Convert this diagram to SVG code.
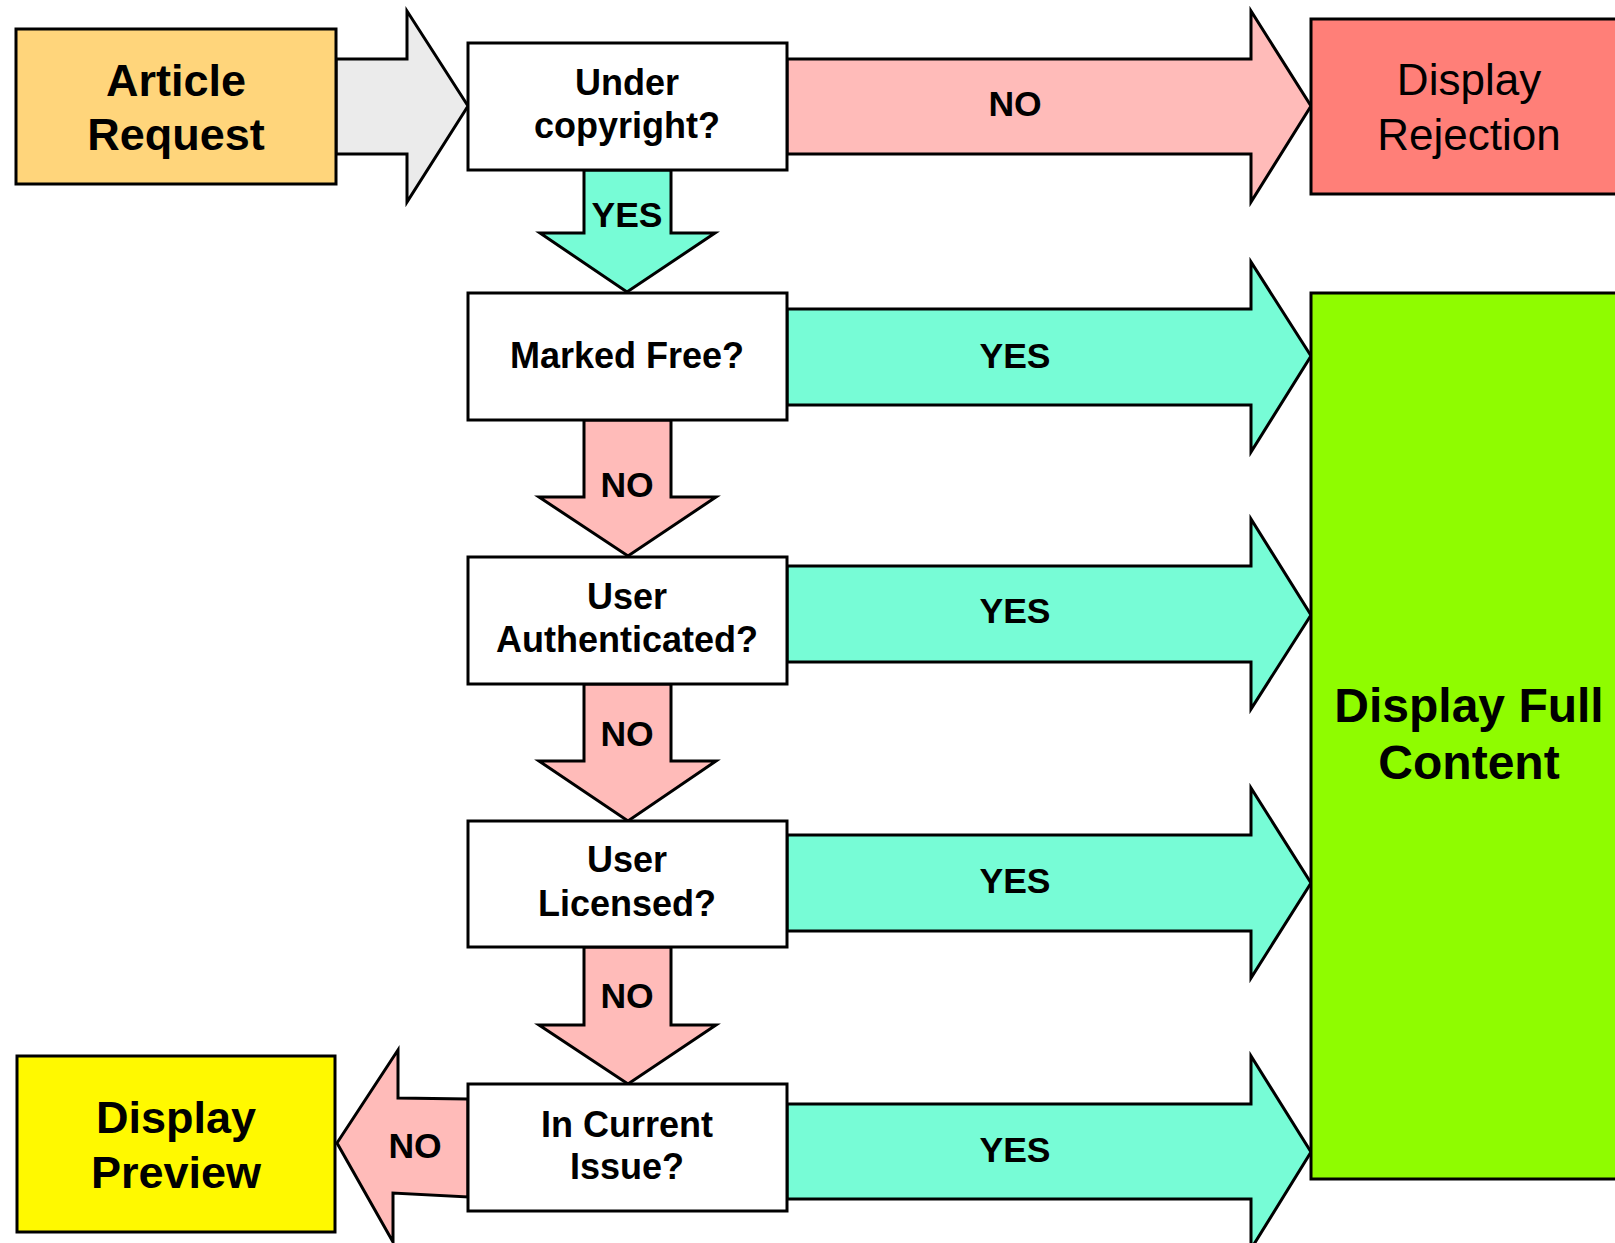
<svg xmlns="http://www.w3.org/2000/svg" width="1615" height="1243" viewBox="0 0 1615 1243">
<style>
.box{stroke:#000;stroke-width:3}
.arr{stroke:#000;stroke-width:3;stroke-linejoin:miter}
.t{font-family:"Liberation Sans",Arial,Helvetica,sans-serif;text-anchor:middle;fill:#000}
.b{font-weight:bold}
.lbl{font-family:"Liberation Sans",Arial,Helvetica,sans-serif;font-weight:bold;font-size:35.5px;text-anchor:middle;fill:#000}
.yes{fill:#77FCD6}
.no{fill:#FFBBB9}
</style>
<rect width="1615" height="1243" fill="#fff"/>
<g id="connectors">
  <path class="arr" fill="#EBEBEB" d="M336 59 H407 V11 L468 106 L407 202 V154 H336 Z"/>
  <path class="arr no" d="M787 59 H1251 V11 L1311 106 L1251 202 V154 H787 Z"/>
  <path class="arr yes" d="M787 309 H1251 V262 L1311 356 L1251 452 V405 H787 Z"/>
  <path class="arr yes" d="M787 566 H1251 V519 L1311 615 L1251 709 V662 H787 Z"/>
  <path class="arr yes" d="M787 835 H1251 V788 L1311 883 L1251 978 V931 H787 Z"/>
  <path class="arr yes" d="M787 1104 H1251 V1056 L1311 1152 L1251 1249 V1199 H787 Z"/>
  <path class="arr yes" d="M584 170 V233 H540 L627 292 L715 233 H671 V170 Z"/>
  <path class="arr no" d="M584 420 V497 H539 L628 556 L716 497 H671 V420 Z"/>
  <path class="arr no" d="M584 684 V761 H539 L628 821 L716 761 H671 V684 Z"/>
  <path class="arr no" d="M584 947 V1025 H539 L628 1084 L716 1025 H671 V947 Z"/>
  <path class="arr no" d="M468 1099 L398 1098 L398 1050 L337 1143 L393 1242 L393 1193 L468 1197 Z"/>
  <text class="lbl" x="1015" y="116">NO</text>
  <text class="lbl" x="1015" y="368">YES</text>
  <text class="lbl" x="1015" y="623">YES</text>
  <text class="lbl" x="1015" y="893">YES</text>
  <text class="lbl" x="1015" y="1162">YES</text>
  <text class="lbl" x="627" y="227">YES</text>
  <text class="lbl" x="627" y="497">NO</text>
  <text class="lbl" x="627" y="746">NO</text>
  <text class="lbl" x="627" y="1008">NO</text>
  <text class="lbl" x="415" y="1158">NO</text>
</g>
<g id="article-request">
  <rect class="box" x="16" y="29" width="320" height="155" fill="#FFD57B"/>
  <text class="t b" font-size="45" x="176" y="96">Article</text>
  <text class="t b" font-size="45" x="176" y="150">Request</text>
</g>
<g id="under-copyright">
  <rect class="box" x="468" y="43" width="319" height="127" fill="#fff"/>
  <text class="t b" font-size="36" x="627" y="95">Under</text>
  <text class="t b" font-size="36" x="627" y="138">copyright?</text>
</g>
<g id="marked-free">
  <rect class="box" x="468" y="293" width="319" height="127" fill="#fff"/>
  <text class="t b" font-size="36" x="627" y="368">Marked Free?</text>
</g>
<g id="user-authenticated">
  <rect class="box" x="468" y="557" width="319" height="127" fill="#fff"/>
  <text class="t b" font-size="36" x="627" y="609">User</text>
  <text class="t b" font-size="36" x="627" y="652">Authenticated?</text>
</g>
<g id="user-licensed">
  <rect class="box" x="468" y="821" width="319" height="126" fill="#fff"/>
  <text class="t b" font-size="36" x="627" y="872">User</text>
  <text class="t b" font-size="36" x="627" y="916">Licensed?</text>
</g>
<g id="in-current-issue">
  <rect class="box" x="468" y="1084" width="319" height="127" fill="#fff"/>
  <text class="t b" font-size="36" x="627" y="1137">In Current</text>
  <text class="t b" font-size="36" x="627" y="1179">Issue?</text>
</g>
<g id="display-rejection">
  <rect class="box" x="1311" y="19" width="318" height="175" fill="#FF7F78"/>
  <text class="t" font-size="44" x="1469" y="95">Display</text>
  <text class="t" font-size="44" x="1469" y="150">Rejection</text>
</g>
<g id="display-full-content">
  <rect class="box" x="1311" y="293" width="318" height="886" fill="#8FFC00"/>
  <text class="t b" font-size="48" x="1469" y="722">Display Full</text>
  <text class="t b" font-size="48" x="1469" y="779">Content</text>
</g>
<g id="display-preview">
  <rect class="box" x="17" y="1056" width="318" height="176" fill="#FFF900"/>
  <text class="t b" font-size="45" x="176" y="1133">Display</text>
  <text class="t b" font-size="45" x="176" y="1188">Preview</text>
</g>
</svg>
